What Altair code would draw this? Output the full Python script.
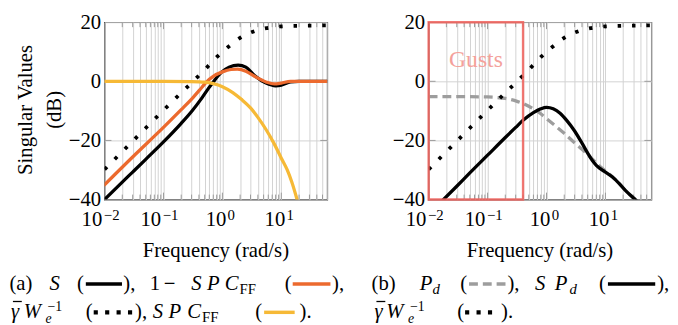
import altair as alt
import pandas as pd

FONT = "Liberation Serif"
W, H = 226, 180
OX_L, OX_R, OY = 104, 433, 18

# ---------------- data ----------------
grid_freqs = [0.01, 0.02, 0.03, 0.04, 0.05, 0.06, 0.07, 0.08, 0.09,
              0.1, 0.2, 0.3, 0.4, 0.5, 0.6, 0.7, 0.8, 0.9,
              1, 2, 3, 4, 5, 6, 7, 8, 9,
              10, 20, 30, 40, 50, 60]
major_freqs = [0.01, 0.1, 1, 10]
tick_exp_neg = ["\u22122", "\u22121"]
tick_exp_pos = ["0", "1"]
y_ticks = [-40, -20, 0, 20]

# panel (a)
freq_S = [0.01, 0.02, 0.03, 0.05, 0.1, 0.2, 0.3, 0.45, 0.58, 0.7, 0.97, 1.3, 1.85, 2.5, 3.5, 5.5, 8.0, 10, 14.3, 20, 60]
S_dB = [-40, -34.1, -30.7, -26.4, -20.5, -14.2, -10.2, -5.6, -2.4, -0.2, 3.1, 4.8, 5.5, 4.8, 2.0, -0.6, -1.5, -1.3, -0.2, 0.0, 0.0]

freq_T = [0.01, 0.03, 0.1, 0.2, 0.3, 0.45, 0.55, 0.7, 1.0, 1.4, 1.8, 2.5, 3.5, 5.5, 7.6, 10, 14.3, 20, 60]
T_dB = [-35, -25.6, -15.6, -9.6, -6.0, -2.0, 0.0, 1.7, 3.2, 4.0, 4.1, 3.4, 1.7, -0.2, -0.9, -0.6, 0.0, 0.0, 0.0]

freq_FF = [0.01, 0.1, 0.3, 0.5, 0.7, 1.0, 1.5, 2.1, 3.0, 4.0, 5.5, 7.5, 10, 12.6, 15, 18.5, 21]
FF_dB = [0, 0, -0.1, -0.3, -0.8, -1.8, -3.8, -6.1, -9.0, -12.2, -16.3, -21.0, -26.0, -30.0, -34.0, -40.0, -44.0]

freq_W = [0.01, 0.02, 0.05, 0.1, 0.2, 0.3, 0.5, 0.8, 1.25, 2.0, 3.3, 5.6, 10, 20, 60]
W_dB = [-29.8, -23.8, -15.8, -9.8, -3.9, -0.5, 3.9, 8.2, 11.6, 14.7, 16.8, 18.0, 18.6, 18.8, 18.9]

# panel (b)
freq_Pd = [0.01, 0.05, 0.1, 0.2, 0.3, 0.4, 0.6, 0.8, 1.0, 1.5, 2.0, 3.0, 4.0, 5.5, 7.0, 9.0, 12, 17, 22, 32, 45]
Pd_dB = [-5.2, -5.2, -5.3, -5.8, -6.6, -7.5, -9.3, -11.0, -12.6, -15.5, -17.6, -20.8, -23.0, -25.6, -27.6, -29.6, -31.6, -34.5, -37.0, -40.0, -43.0]

freq_SPd = [0.015, 0.03, 0.05, 0.1, 0.2, 0.3, 0.4, 0.6, 0.8, 1.0, 1.3, 1.7, 2.2, 3.0, 4.0, 5.0, 6.0, 7.0, 8.5, 10, 13, 17, 22, 32, 45]
SPd_dB = [-41.5, -35.5, -31.0, -25.0, -19.0, -15.6, -13.2, -10.6, -9.3, -8.8, -9.3, -10.8, -13.2, -16.8, -20.9, -24.3, -26.8, -28.4, -29.8, -30.7, -32.3, -34.5, -37.0, -40.0, -43.0]

gust_band = [0.01, 0.4]
gust_db = [-40, 20]

# ---------------- styling ----------------
BLACK = "#000000"
ORANGE = "#EC6A2E"
YELLOW = "#F6B936"
GRAY = "#9d9d9d"
RED = "#F0605A"
GRID = "#d2d2d2"
TICK = "#9a9a9a"

x_scale = alt.Scale(type="log", domain=[0.01, 60], nice=False)
y_scale = alt.Scale(domain=[-40, 20], nice=False)

x_axis = alt.Axis(values=grid_freqs, grid=True, gridColor=GRID, gridWidth=1,
                  labels=False, ticks=False, domain=False, title=None)
y_axis = alt.Axis(values=y_ticks, grid=True, gridColor=GRID, gridWidth=1,
                  labels=True, labelFont=FONT, labelFontSize=21, labelColor="black",
                  labelPadding=4, labelFlush=False,
                  labelExpr="datum.value < 0 ? '\u2212' + (-datum.value) : datum.label",
                  ticks=False, domain=False, title=None)

X = lambda: alt.X("f:Q", scale=x_scale, axis=x_axis)
Y = lambda: alt.Y("db:Q", scale=y_scale, axis=y_axis)

ONE = pd.DataFrame({"o": [0]})


def curve(freq, db, color, width=3.3, dash=None, cap="round"):
    kw = dict(color=color, strokeWidth=width, clip=True, interpolate="monotone",
              strokeCap=cap, strokeJoin="round")
    if dash:
        kw["strokeDash"] = dash
    df = pd.DataFrame({"f": freq, "db": db})
    return alt.Chart(df).mark_line(**kw).encode(x=X(), y=Y())


def frame_ticks():
    minor = pd.DataFrame({"f": [g for g in grid_freqs if g not in major_freqs and g < 60]})
    major = pd.DataFrame({"f": major_freqs[1:]})
    yt = pd.DataFrame({"db": [-20, 0]})
    layers = []
    for df, ln in ((minor, 5), (major, 7)):
        layers.append(alt.Chart(df).mark_rule(color=TICK, strokeWidth=1)
                      .encode(x=X(), y=alt.value(H - ln), y2=alt.value(H)))
        layers.append(alt.Chart(df).mark_rule(color=TICK, strokeWidth=1)
                      .encode(x=X(), y=alt.value(0), y2=alt.value(ln)))
    layers.append(alt.Chart(yt).mark_rule(color=TICK, strokeWidth=1)
                  .encode(y=Y(), x=alt.value(0), x2=alt.value(7)))
    layers.append(alt.Chart(yt).mark_rule(color=TICK, strokeWidth=1)
                  .encode(y=Y(), x=alt.value(W - 7), x2=alt.value(W)))
    return layers


def tick_labels():
    base = pd.DataFrame({"f": major_freqs, "t": ["10"] * 4})
    neg = pd.DataFrame({"f": major_freqs[:2], "t": tick_exp_neg})
    pos = pd.DataFrame({"f": major_freqs[2:], "t": tick_exp_pos})
    base_neg = base.iloc[:2]
    base_pos = base.iloc[2:]
    yb = 225 - OY
    ys = 218.3 - OY
    common = dict(font=FONT, color="black", baseline="alphabetic")
    return [
        alt.Chart(base_neg).mark_text(align="right", dx=-2.3, fontSize=21, **common)
        .encode(x=X(), y=alt.value(yb), text="t:N"),
        alt.Chart(base_pos).mark_text(align="right", dx=4, fontSize=21, **common)
        .encode(x=X(), y=alt.value(yb), text="t:N"),
        alt.Chart(neg).mark_text(align="left", dx=-0.7, fontSize=15, **common)
        .encode(x=X(), y=alt.value(ys), text="t:N"),
        alt.Chart(pos).mark_text(align="left", dx=5.3, fontSize=15, **common)
        .encode(x=X(), y=alt.value(ys), text="t:N"),
    ]


def T(s, x, y, ox, size=21, italic=False, color="black", align="left", angle=None):
    kw = dict(text=s, font=FONT, fontSize=size, fontStyle="italic" if italic else "normal",
              color=color, align=align, baseline="alphabetic")
    if angle is not None:
        kw["angle"] = angle
    return alt.Chart(ONE).mark_text(**kw).encode(x=alt.value(x - ox), y=alt.value(y - OY))


def B(x1, x2, y, ox, color, width=3.5, dash=None):
    kw = dict(color=color, strokeWidth=width, strokeCap="butt")
    if dash:
        kw["strokeDash"] = dash
    return alt.Chart(ONE).mark_rule(**kw).encode(
        x=alt.value(x1 - ox), x2=alt.value(x2 - ox), y=alt.value(y - OY))


B1, B2 = 289.5, 318.5
YB1, YB2 = 283.7, 312.5
DOTS = [4.2, 7.4]
DASHES = [9, 5]

# ---------------- panel (a) ----------------
o = OX_L
cap_a = [
    T("(a)", 7.5, B1, o),
    T("S", 48, B1, o, italic=True),
    T("(", 76, B1, o),
    B(85, 121.7, YB1, o, BLACK),
    T("),", 123, B1, o),
    T("1", 150, B1, o),
    T("\u2212", 164, B1, o),
    T("S", 192, B1, o, italic=True),
    T("P", 208, B1, o, italic=True),
    T("C", 226, B1, o, italic=True),
    T("FF", 241, B1 + 4, o, size=15),
    T("(", 287, B1, o),
    B(295, 333.3, YB1, o, ORANGE),
    T("),", 335, B1, o),
    T("\u03b3", 9, B2, o, italic=True),
    B(11, 20, 301.5, o, BLACK, width=1.3),
    T("W", 22, B2, o, italic=True),
    T("e", 44, B2 + 5, o, size=14, italic=True),
    T("\u22121", 46, B2 - 7.5, o, size=14),
    T("(", 85, B2, o),
    B(93, 132, YB2, o, BLACK, width=4.2, dash=DOTS),
    T("),", 135, B2, o),
    T("S", 153, B2, o, italic=True),
    T("P", 169, B2, o, italic=True),
    T("C", 188, B2, o, italic=True),
    T("FF", 203, B2 + 4, o, size=15),
    T("(", 257, B2, o),
    B(266, 297, YB2, o, YELLOW),
    T(").", 302, B2, o),
]
titles_a = [
    T("Singular Values", 30.4, 107, o, align="center", angle=270),
    T("(dB)", 60, 107, o, align="center", angle=270),
    T("Frequency (rad/s)", 217, 256.7, o, align="center"),
]

left = alt.layer(
    *frame_ticks(),
    curve(freq_S, S_dB, BLACK),
    curve(freq_T, T_dB, ORANGE),
    curve(freq_W, W_dB, BLACK, width=3.8, dash=[3.5, 11.1], cap="butt"),
    curve(freq_FF, FF_dB, YELLOW),
    *tick_labels(),
    *titles_a,
    *cap_a,
).properties(width=W, height=H)

# ---------------- panel (b) ----------------
o = OX_R
cap_b = [
    T("(b)", 375, B1, o),
    T("P", 424, B1, o, italic=True),
    T("d", 437, B1 + 4, o, size=15, italic=True),
    T("(", 465, B1, o),
    B(474, 511, YB1, o, GRAY, dash=DASHES),
    T("),", 513, B1, o),
    T("S", 541, B1, o, italic=True),
    T("P", 561, B1, o, italic=True),
    T("d", 576, B1 + 4, o, size=15, italic=True),
    T("(", 606, B1, o),
    B(615, 663, YB1, o, BLACK),
    T("),", 665, B1, o),
    T("\u03b3", 378, B2, o, italic=True),
    B(380, 389, 301.5, o, BLACK, width=1.3),
    T("W", 390, B2, o, italic=True),
    T("e", 412, B2 + 5, o, size=14, italic=True),
    T("\u22121", 414, B2 - 7.5, o, size=14),
    T("(", 462, B2, o),
    B(470, 504, YB2, o, BLACK, width=4.2, dash=DOTS),
    T(").", 506.5, B2, o),
]
titles_b = [T("Frequency (rad/s)", 546, 256.7, o, align="center")]

gust_df = pd.DataFrame({"f": [gust_band[0]], "f2": [gust_band[1]],
                        "db": [gust_db[0]], "db2": [gust_db[1]]})
gust_box = alt.Chart(gust_df).mark_rect(fillOpacity=0, stroke=RED, strokeWidth=2.4,
                                        strokeOpacity=0.85).encode(
    x=X(), x2="f2:Q", y=Y(), y2="db2:Q")
gust_label = T("Gusts", 481, 63.3, o, size=24, color="#F4A19B", align="center")

right = alt.layer(
    *frame_ticks(),
    curve(freq_Pd, Pd_dB, GRAY, width=3.3, dash=DASHES, cap="butt"),
    curve(freq_SPd, SPd_dB, BLACK),
    curve(freq_W, W_dB, BLACK, width=3.8, dash=[3.5, 11.1], cap="butt"),
    gust_box,
    gust_label,
    *tick_labels(),
    *titles_b,
    *cap_b,
).properties(width=W, height=H)

chart = alt.hconcat(left, right, spacing=OX_R - OX_L - W, bounds="flush").configure_view(
    stroke="black", strokeWidth=1.2
).properties(padding={"left": 0, "top": 0, "right": 0, "bottom": 0}, background="white")

chart.save("out.html", embed_options={"renderer": "svg", "actions": False})
